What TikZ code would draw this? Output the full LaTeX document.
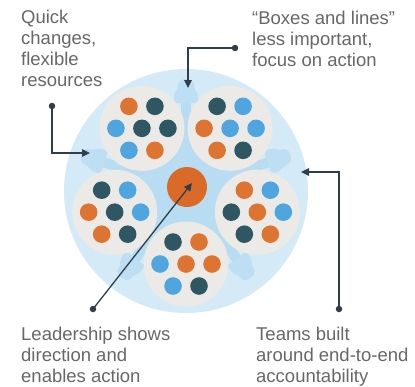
\documentclass[tikz,border=0pt]{standalone}
\usepackage{fontspec}
\setmainfont{Liberation Sans}
\usetikzlibrary{arrows.meta,calc}

\definecolor{circblue}{HTML}{D4EAF6}
\definecolor{innerblue}{HTML}{B8DCF2}
\definecolor{blobblue}{HTML}{BEDFF3}
\definecolor{teamgrey}{HTML}{ECEAE7}
\definecolor{org}{HTML}{DD7432}
\definecolor{drk}{HTML}{2E5763}
\definecolor{blu}{HTML}{4FA5DE}
\definecolor{leadorg}{HTML}{D96A27}
\definecolor{lineslate}{HTML}{2F3E4B}
\definecolor{textgrey}{HTML}{676767}

\begin{document}
\begin{tikzpicture}[x=1pt,y=1pt,yscale=-1,
        conn/.style={draw=lineslate,line width=1.3pt,-{Triangle[length=8pt,width=7.5pt]}},
        enddot/.style={circle,fill=lineslate,inner sep=0pt,minimum size=6.5pt},
        team/.style={circle,fill=teamgrey,inner sep=0pt,minimum size=85pt},
        note/.style={anchor=base west,align=left,inner sep=0pt,text=textgrey,font=\fontsize{18.5}{21}\selectfont}]
        \useasboundingbox (0,0) rectangle (415,386);

        % Background circle
        \fill[circblue] (186,191) circle [radius=122];
        \coordinate (hub) at (186,189);
        \fill[innerblue] (hub) circle [radius=58];

        % People between the teams
        \foreach \g in {-90,-18,54,126,198} {
            \begin{scope}[shift={(186,189)},rotate=\g+90]
                \fill[innerblue] (-5,-56) rectangle (5,-88);
                \fill[blobblue] (-12,-86) -- (-12,-91) .. controls (-12,-98) and (-8,-99) .. (-8,-104)
                    .. controls (-8,-112) and (8,-112) .. (8,-104)
                    .. controls (8,-99) and (12,-98) .. (12,-91) -- (12,-86) -- cycle;
            \end{scope}
        }

        % Teams
        \foreach \tm/\ang in {TL/-126,TR/-54,L/162,R/18,B/90}
            \node[team] (team\tm) at ($(hub)+(\ang:75)$) {};

        % Team members
        \foreach \tm/\ca/\cb/\cc/\cd/\ce/\cf/\cg in {TL/org/drk/blu/drk/drk/blu/org,
                TR/drk/blu/org/blu/blu/org/drk, L/drk/blu/org/drk/blu/org/drk,
                R/org/blu/drk/org/blu/drk/org, B/drk/org/blu/org/org/blu/drk} {
            \fill[\ca] ($(team\tm)+(-13,-22)$) circle [radius=8.8];
            \fill[\cb] ($(team\tm)+(13,-22)$) circle [radius=8.8];
            \fill[\cc] ($(team\tm)+(-26,0)$) circle [radius=8.8];
            \fill[\cd] ($(team\tm)+(0,0)$) circle [radius=8.8];
            \fill[\ce] ($(team\tm)+(26,0)$) circle [radius=8.8];
            \fill[\cf] ($(team\tm)+(-13,22)$) circle [radius=8.8];
            \fill[\cg] ($(team\tm)+(13,22)$) circle [radius=8.8];
        }

        % Leadership
        \node[circle,fill=leadorg,inner sep=0pt,minimum size=40pt] (lead) at (187,187) {};

        % Text Node
        \node[note] (quick) at (21,86) {Quick\\changes,\\flexible\\resources};
        % Text Node
        \node[note] (boxes) at (252,66) {“Boxes and lines”\\less important,\\focus on action};
        % Text Node
        \node[note] (leader) at (21,382) {Leadership shows\\direction and\\enables action};
        % Text Node
        \node[note] (teams) at (256,382) {Teams built\\around end-to-end\\accountability};

        % Connection
        \node[enddot] (dotQ) at (52,106) {};
        \coordinate (tipQ) at (90,153);
        \draw[conn] (dotQ.center) |- (tipQ);
        % Connection
        \node[enddot] (dotB) at (235,48) {};
        \coordinate (tipB) at (188,88);
        \draw[conn] (dotB.center) -| (tipB);
        % Connection
        \node[enddot] (dotL) at (93,309) {};
        \coordinate (tipL) at (192,183);
        \draw[conn] (dotL.center) -- (tipL);
        % Connection
        \node[enddot] (dotT) at (339,309) {};
        \coordinate (tipT) at (301,172);
        \draw[conn] (dotT.center) |- (tipT);

\end{tikzpicture}
\end{document}
